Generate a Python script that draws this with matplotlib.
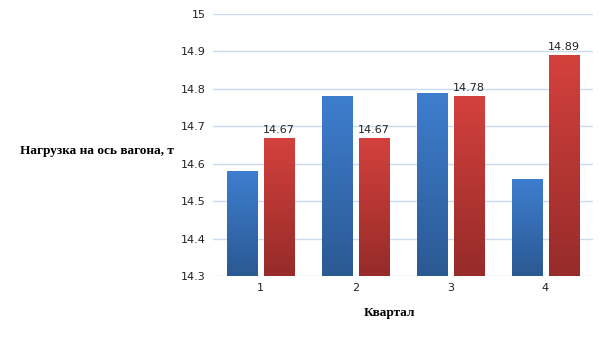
import matplotlib
matplotlib.use("Agg")
import matplotlib.pyplot as plt
import numpy as np
from matplotlib.colors import LinearSegmentedColormap

quarters = ["1", "2", "3", "4"]
load_plan = [14.58, 14.78, 14.79, 14.56]
load_fact = [14.67, 14.67, 14.78, 14.89]

y_min, y_max = 14.3, 15.0

blue_grad = LinearSegmentedColormap.from_list("blue_grad", ["#2b5993", "#3e7ecf"])
red_grad = LinearSegmentedColormap.from_list("red_grad", ["#962b29", "#d4413d"])


def gradient_bars(ax, xs, heights, width, cmap):
    bars = ax.bar(xs, np.array(heights) - y_min, width, bottom=y_min,
                  color="none", edgecolor="none", zorder=3)
    grad = np.linspace(0, 1, 256).reshape(-1, 1)
    for b in bars:
        x0, y0 = b.get_x(), b.get_y()
        w, h = b.get_width(), b.get_height()
        im = ax.imshow(grad, cmap=cmap, origin="lower", aspect="auto",
                       extent=[x0, x0 + w, y0, y0 + h], zorder=3)
        im.set_clip_path(b)
    return bars


fig = plt.figure(figsize=(6.05, 3.4), dpi=100)
ax = fig.add_axes([0.352, 0.188, 0.628, 0.771])

x = np.arange(len(quarters))
w = 0.32
gap = 0.035
gradient_bars(ax, x - w / 2 - gap, load_plan, w, blue_grad)
gradient_bars(ax, x + w / 2 + gap, load_fact, w, red_grad)

for xi, v in zip(x, load_fact):
    ax.text(xi + w / 2 + gap, v + 0.008, f"{v:.2f}", ha="center", va="bottom",
            fontsize=8, color="#222222")

ax.set_xlim(-0.5, len(quarters) - 0.5)
ax.set_ylim(y_min, y_max)
ax.set_yticks(np.arange(14.3, 15.01, 0.1))
ax.set_yticklabels(["14.3", "14.4", "14.5", "14.6", "14.7", "14.8", "14.9", "15"])
ax.set_xticks(x)
ax.set_xticklabels(quarters)
ax.tick_params(length=0, labelsize=8, colors="#222222")
ax.tick_params(axis="y", pad=5)
ax.tick_params(axis="x", pad=5)
ax.grid(axis="y", color="#c9dbef", linewidth=1, zorder=0)
ax.set_axisbelow(True)
for s in ax.spines.values():
    s.set_visible(False)

fig.text(0.033, 0.555, "Нагрузка на ось вагона, т", fontsize=9.5, fontweight="bold",
         family="Liberation Serif", ha="left", va="center")
fig.text(0.643, 0.08, "Квартал", fontsize=9.5, fontweight="bold",
         family="Liberation Serif", ha="center", va="center")

fig.savefig("out.png", dpi=100)
